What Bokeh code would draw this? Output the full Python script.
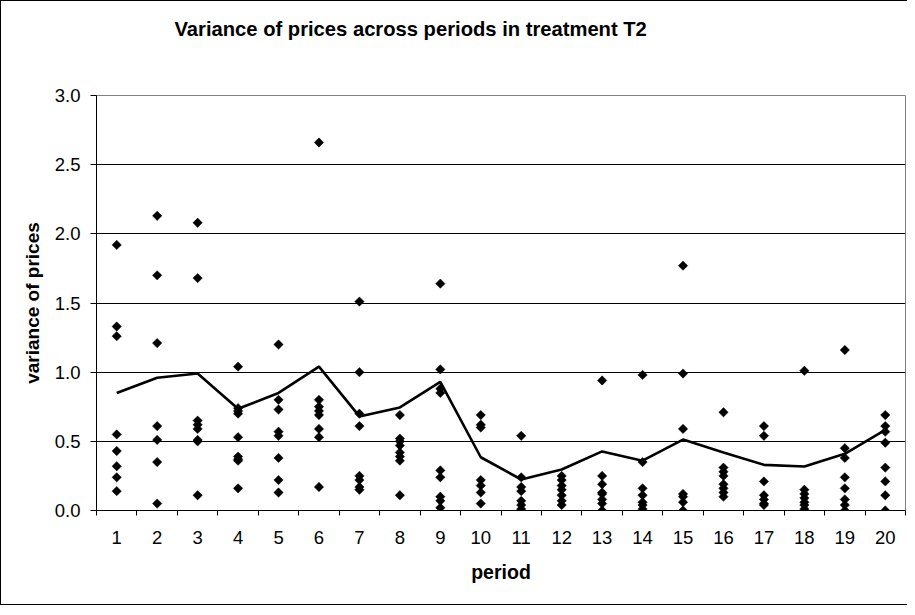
import numpy as np
from bokeh.plotting import figure
from bokeh.models import (Range1d, FixedTicker, PrintfTickFormatter, ColumnDataSource,
                          Title)
from bokeh.embed import file_html
from bokeh.resources import INLINE

# ---- data ----
periods = list(range(1, 21))
mean_variance = [0.85, 0.96, 0.99, 0.735, 0.85, 1.04, 0.68, 0.745, 0.93, 0.385,
                 0.224, 0.296, 0.427, 0.36, 0.513, 0.42, 0.33, 0.318, 0.41, 0.583]

v_p1 = [1.92, 1.33, 1.26, 0.55, 0.43, 0.32, 0.24, 0.14]
v_p2 = [2.13, 1.70, 1.21, 0.61, 0.51, 0.35, 0.05]
v_p3 = [2.08, 1.68, 0.65, 0.62, 0.59, 0.51, 0.50, 0.11]
v_p4 = [1.04, 0.74, 0.72, 0.70, 0.53, 0.39, 0.37, 0.36, 0.16]
v_p5 = [1.20, 0.80, 0.73, 0.57, 0.54, 0.38, 0.22, 0.13]
v_p6 = [2.66, 0.80, 0.75, 0.72, 0.69, 0.59, 0.53, 0.17]
v_p7 = [1.51, 1.00, 0.70, 0.61, 0.25, 0.22, 0.17, 0.15]
v_p8 = [0.69, 0.52, 0.50, 0.47, 0.42, 0.39, 0.36, 0.11]
v_p9 = [1.64, 1.02, 0.88, 0.85, 0.29, 0.24, 0.10, 0.07, 0.02]
v_p10 = [0.69, 0.62, 0.60, 0.22, 0.18, 0.13, 0.05]
v_p11 = [0.54, 0.24, 0.17, 0.14, 0.07, 0.04, 0.01]
v_p12 = [0.25, 0.22, 0.18, 0.15, 0.11, 0.07, 0.04]
v_p13 = [0.94, 0.25, 0.19, 0.13, 0.12, 0.08, 0.05, 0.00]
v_p14 = [0.98, 0.35, 0.16, 0.11, 0.06, 0.04, 0.01]
v_p15 = [1.77, 0.99, 0.59, 0.12, 0.10, 0.06, 0.00]
v_p16 = [0.71, 0.31, 0.28, 0.25, 0.19, 0.16, 0.13, 0.10]
v_p17 = [0.61, 0.54, 0.21, 0.11, 0.08, 0.05, 0.04]
v_p18 = [1.01, 0.15, 0.12, 0.09, 0.06, 0.04, 0.01]
v_p19 = [1.16, 0.45, 0.38, 0.24, 0.16, 0.08, 0.04, 0.00]
v_p20 = [0.69, 0.61, 0.57, 0.49, 0.31, 0.21, 0.11, 0.00]

y_ticks = [0.0, 0.5, 1.0, 1.5, 2.0, 2.5, 3.0]

obs = [v_p1, v_p2, v_p3, v_p4, v_p5, v_p6, v_p7, v_p8, v_p9, v_p10,
       v_p11, v_p12, v_p13, v_p14, v_p15, v_p16, v_p17, v_p18, v_p19, v_p20]
obs_x, obs_y = [], []
for per, vals in zip(periods, obs):
    obs_x += [per] * len(vals)
    obs_y += vals

FONT = "Liberation Sans"

p = figure(width=907, height=605, output_backend="svg", toolbar_location=None,
           x_range=Range1d(0.5, 20.5), y_range=Range1d(0, 3),
           min_border_left=95, min_border_right=3, min_border_top=94,
           min_border_bottom=96)
p.styles = {"border-left": "1px solid black", "border-top": "1px solid black",
            "border-bottom": "1px solid black"}
p.background_fill_color = "white"
p.border_fill_color = "white"
p.outline_line_color = "#808080"
p.outline_line_width = 1

# spacer between title and plot area (closest to the frame), then the title
spacer = Title(text=" ", text_font_size="1px", standoff=39)
main_title = Title(text="Variance of prices across periods in treatment T2",
                   align="left", offset=78, standoff=27, vertical_align="bottom",
                   text_font=FONT, text_font_style="bold", text_font_size="20.2px",
                   text_color="black")
p.add_layout(spacer, "above")
p.add_layout(main_title, "above")

p.xgrid.visible = False
p.ygrid.ticker = FixedTicker(ticks=y_ticks)
p.ygrid.grid_line_color = "black"
p.ygrid.grid_line_width = 1

# x axis: labels at category centers, tick marks at boundaries
xa = p.xaxis[0]
xa.ticker = FixedTicker(ticks=periods, minor_ticks=[i + 0.5 for i in range(0, 21)])
xa.major_tick_out = 0
xa.major_tick_in = 0
xa.minor_tick_out = 5
xa.minor_tick_in = 0
xa.minor_tick_line_color = "black"
xa.axis_line_color = "black"
xa.major_label_text_font = FONT
xa.major_label_text_font_size = "18.5px"
xa.major_label_text_color = "black"
xa.major_label_standoff = 15
xa.axis_label = "period"
xa.axis_label_text_font = FONT
xa.axis_label_text_font_style = "bold"
xa.axis_label_text_font_size = "19.5px"
xa.axis_label_text_color = "black"
xa.axis_label_standoff = 14

ya = p.yaxis[0]
ya.ticker = FixedTicker(ticks=y_ticks)
ya.formatter = PrintfTickFormatter(format="%.1f")
ya.major_tick_out = 6
ya.major_tick_in = 0
ya.minor_tick_out = 0
ya.minor_tick_in = 0
ya.major_tick_line_color = "black"
ya.axis_line_color = "black"
ya.major_label_text_font = FONT
ya.major_label_text_font_size = "18.5px"
ya.major_label_text_color = "black"
ya.major_label_standoff = 10
ya.axis_label = "variance of prices"
ya.axis_label_text_font = FONT
ya.axis_label_text_font_style = "bold"
ya.axis_label_text_font_size = "19px"
ya.axis_label_text_color = "black"
ya.axis_label_standoff = 9

src_pts = ColumnDataSource(dict(x=obs_x, y=obs_y))
p.scatter("x", "y", source=src_pts, marker="square", angle=np.pi / 4, size=6.6,
          fill_color="black", line_color="black", line_width=0.5)

src_line = ColumnDataSource(dict(x=periods, y=mean_variance))
p.line("x", "y", source=src_line, line_color="black", line_width=2.6)

open("out.html", "w").write(file_html(p, INLINE))
